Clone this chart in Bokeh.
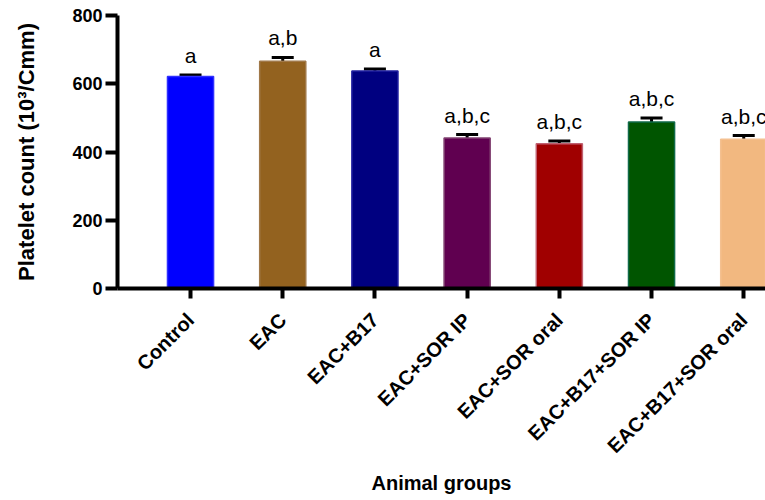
import math
from bokeh.plotting import figure
from bokeh.models import ColumnDataSource, FixedTicker, Whisker, TeeHead, Range1d
from bokeh.core.properties import value
from bokeh.embed import file_html
from bokeh.resources import INLINE

groups = ["Control", "EAC", "EAC+B17", "EAC+SOR IP", "EAC+SOR oral",
          "EAC+B17+SOR IP", "EAC+B17+SOR oral"]
platelets = [621, 666, 637, 441, 424, 488, 437]
errors = [5, 11, 6, 10, 8, 12, 11]
letters = ["a", "a,b", "a", "a,b,c", "a,b,c", "a,b,c", "a,b,c"]
fill_colors = ["#0000FF", "#93621F", "#000080", "#600050", "#A00000", "#005500", "#F2B880"]
line_colors = ["#3030FF", "#A07848", "#2020A0", "#804070", "#C06070", "#106A4A", "#F4C090"]
y_ticks = [0, 200, 400, 600, 800]

idx = list(range(len(groups)))
src = ColumnDataSource(dict(
    x=idx, top=platelets, err=errors,
    upper=[v + e for v, e in zip(platelets, errors)],
    lower=[v - e for v, e in zip(platelets, errors)],
    lab=letters, fc=fill_colors, lc=line_colors,
))

p = figure(width=765, height=500, output_backend="svg", toolbar_location=None,
           x_range=Range1d(-0.792, 6.236), y_range=Range1d(0, 800),
           min_border_left=117, min_border_top=15, min_border_right=0,
           min_border_bottom=212)
p.outline_line_color = None
p.xgrid.visible = False
p.ygrid.visible = False

p.vbar(x="x", top="top", bottom=0, width=0.5, fill_color="fc", line_color="lc",
       line_width=1.5, source=src)

w = Whisker(base="x", upper="upper", lower="lower", source=src,
            line_color="black", line_width=3,
            upper_head=TeeHead(size=22, line_width=3, line_color="black"),
            lower_head=TeeHead(size=22, line_width=3, line_color="black"))
p.add_layout(w)

p.text(x="x", y="upper", text="lab", source=src, text_align="center",
       text_baseline="bottom", y_offset=-8, text_font=value("Liberation Sans"),
       text_font_size="21px", text_color="black")

for ax in (p.xaxis[0], p.yaxis[0]):
    ax.axis_line_width = 4
    ax.major_tick_line_width = 4
    ax.major_tick_in = 0
    ax.minor_tick_line_color = None
    ax.major_label_text_font = "Liberation Sans"
    ax.major_label_text_font_style = "bold"
    ax.major_label_text_color = "black"
    ax.axis_label_text_font = "Liberation Sans"
    ax.axis_label_text_font_style = "bold"
    ax.axis_label_text_color = "black"
    ax.axis_label_text_font_size = "20px"

p.yaxis.ticker = FixedTicker(ticks=y_ticks)
p.yaxis.major_tick_out = 12
p.yaxis.major_label_standoff = 3
p.yaxis.major_label_text_font_size = "18px"
p.yaxis.axis_label = "Platelet count (10³/Cmm)"
p.yaxis.axis_label_standoff = 30
p.yaxis.axis_label_text_font_size = "22px"

p.xaxis.ticker = FixedTicker(ticks=idx)
p.xaxis.major_label_overrides = {i: g for i, g in zip(idx, groups)}
p.xaxis.major_tick_out = 10
p.xaxis.major_label_standoff = 18
p.xaxis.major_label_orientation = math.pi / 4
p.xaxis.major_label_text_font_size = "20px"
p.xaxis.axis_label = "Animal groups"
p.xaxis.axis_label_standoff = 4

open("out.html", "w").write(file_html(p, INLINE))
